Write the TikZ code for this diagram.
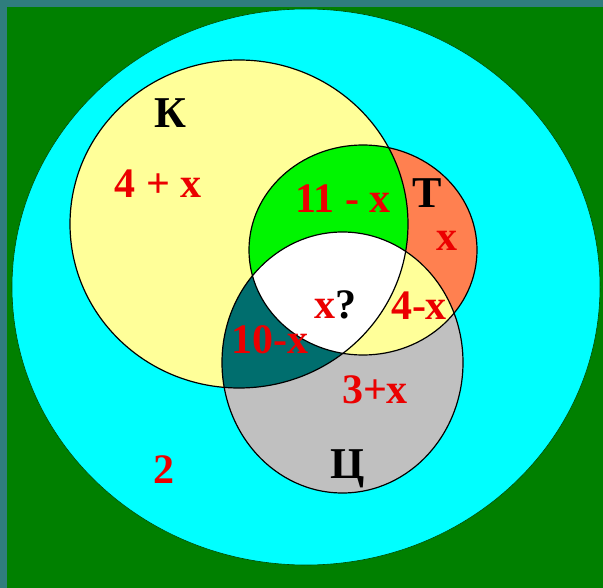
\documentclass[tikz,border=0pt]{standalone}
\usepackage{fontspec}
\setmainfont{Liberation Serif}
\definecolor{bg}{RGB}{0,128,0}
\definecolor{strip}{RGB}{47,125,125}
\definecolor{cyanA}{RGB}{0,255,255}
\definecolor{yel}{RGB}{255,255,153}
\definecolor{org}{RGB}{255,128,80}
\definecolor{lime}{RGB}{0,245,0}
\definecolor{tealA}{RGB}{0,110,110}
\definecolor{grayA}{RGB}{192,192,192}
\definecolor{txtred}{RGB}{235,0,0}
\def\Kpath{(239,224) ellipse [x radius=169pt, y radius=164pt]}
\def\Tpath{(363,250) ellipse [x radius=114pt, y radius=105pt]}
\def\Cpath{(342.5,362.5) ellipse [x radius=120.5pt, y radius=130.5pt]}
\tikzset{
  num/.style={text=txtred, font=\fontsize{42}{42}\selectfont\bfseries, inner sep=0pt},
  letter/.style={text=black, font=\fontsize{44}{44}\selectfont\bfseries, inner sep=0pt},
  outline/.style={draw=black, line width=1.2pt}
}
\begin{document}
\begin{tikzpicture}[x=1pt, y=-1pt]
\useasboundingbox (0,0) rectangle (603,588);
\fill[bg] (0,0) rectangle (603,588);
\fill[strip] (0,0) rectangle (603,7);
\fill[strip] (0,0) rectangle (7,588);
% universe
\filldraw[fill=cyanA, draw=black!70!green, line width=0.6pt] (306,287) ellipse [x radius=294pt, y radius=278pt];
% sets
\fill[yel] \Kpath;
\fill[org] \Tpath;
\fill[grayA] \Cpath;
\begin{scope}
  \clip \Tpath;
  \fill[yel] \Cpath;
\end{scope}
\begin{scope}
  \clip \Kpath;
  \fill[lime] \Tpath;
  \fill[tealA] \Cpath;
  \begin{scope}
    \clip \Tpath;
    \fill[white] \Cpath;
  \end{scope}
\end{scope}
\draw[outline] \Kpath;
\draw[outline] \Tpath;
\draw[outline] \Cpath;
% labels
\node[letter] (lK) at (170,113) {К};
\node[letter] (lT) at (427,193) {Т};
\node[letter, anchor=base] (lC) at (348,478) {Ц};
\node[num] (n1) at (158,184) {4 + x};
\node[num] (n2) at (343,199) {11 - x};
\node[num] (n3) at (447,241) {x};
\node[num] (n4) at (335,305) {x\textcolor{black}{?}};
\node[num] (n5) at (419,306) {4-x};
\node[num] (n6) at (270,340) {10-x};
\node[num] (n7) at (375,390) {3+x};
\node[num] (n8) at (164,470) {2};
\end{tikzpicture}
\end{document}
